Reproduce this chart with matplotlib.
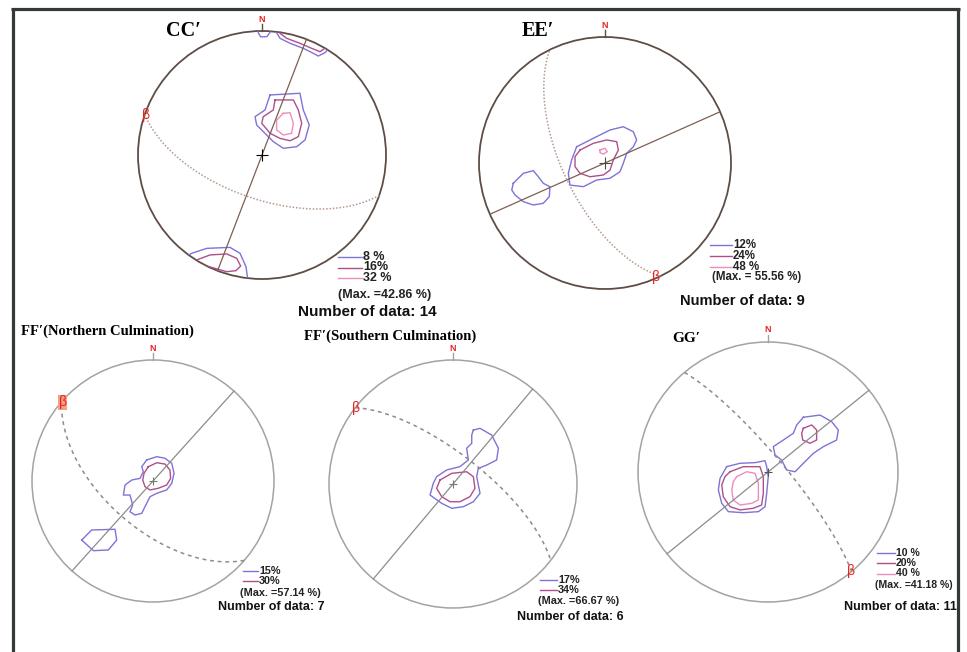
import numpy as np
import matplotlib.pyplot as plt
from matplotlib.patches import Circle
from matplotlib.lines import Line2D

W, H = 967, 652

# ---- data: fold-axis planes (vertical, strike) and beta girdles (dip dir, dip)
cc_axial, cc_girdle, cc_beta = 21, (199, 61), 289
ee_axial, ee_girdle, ee_beta = 66, (244, 63), 156
ffn_axial, ffn_girdle, ffn_beta = 42, (221, 58), 311
ffs_axial, ffs_girdle, ffs_beta = 40, (38, 71), 308
gg_axial, gg_girdle, gg_beta = 51, (50, 80), 140

cc_levels = ["8 %", "16%", "32 %"]
ee_levels = ["12%", "24%", "48 %"]
ffn_levels = ["15%", "30%"]
ffs_levels = ["17%", "34%"]
gg_levels = ["10 %", "20%", "40 %"]

cc_max, ee_max, ffn_max, ffs_max, gg_max = "42.86", "55.56", "57.14", "66.67", "41.18"
cc_n, ee_n, ffn_n, ffs_n, gg_n = 14, 9, 7, 6, 11

# contour outlines, net coordinates (x east, y north, primitive radius 1)
cc_core_1 = [(0.065, 0.484), (0.306, 0.498), (0.333, 0.363), (0.381, 0.242), (0.347, 0.121),
             (0.280, 0.067), (0.172, 0.054), (0.091, 0.108), (-0.043, 0.242), (-0.056, 0.309),
             (0.024, 0.363)]
cc_core_2 = [(0.105, 0.444), (0.253, 0.444), (0.293, 0.363), (0.320, 0.256), (0.293, 0.148),
             (0.226, 0.115), (0.145, 0.134), (0.065, 0.175), (-0.002, 0.256), (0.010, 0.309),
             (0.091, 0.363)]
cc_core_3 = [(0.172, 0.336), (0.226, 0.341), (0.253, 0.256), (0.239, 0.175), (0.172, 0.161),
             (0.118, 0.202), (0.118, 0.282)]
cc_top_1 = [(0.11, 1.03), (0.118, 0.986), (0.145, 0.941), (0.226, 0.901), (0.333, 0.860),
            (0.414, 0.820), (0.454, 0.798), (0.508, 0.825), (0.54, 0.86)]
cc_top_2 = [(0.14, 1.03), (0.145, 0.981), (0.199, 0.941), (0.306, 0.901), (0.401, 0.860),
            (0.468, 0.833), (0.52, 0.87)]
cc_north_1 = [(-0.035, 1.03), (-0.03, 0.986), (-0.01, 0.952), (0.04, 0.955), (0.065, 0.99),
              (0.07, 1.03)]
cc_bot_1 = [(-0.60, -0.81), (-0.567, -0.793), (-0.446, -0.753), (-0.258, -0.745),
            (-0.177, -0.793), (-0.129, -0.901), (-0.118, -0.981), (-0.115, -1.03)]
cc_bot_2 = [(-0.55, -0.86), (-0.513, -0.841), (-0.419, -0.806), (-0.285, -0.798),
            (-0.204, -0.833), (-0.172, -0.895), (-0.210, -0.933), (-0.285, -0.941),
            (-0.379, -0.914), (-0.473, -0.887), (-0.50, -0.90)]

ee_core_1 = [(-0.225, 0.129), (-0.093, 0.196), (0.040, 0.262), (0.145, 0.288), (0.225, 0.248),
             (0.251, 0.183), (0.225, 0.129), (0.172, 0.077), (0.145, -0.003), (0.119, -0.069),
             (0.040, -0.121), (-0.066, -0.135), (-0.172, -0.188), (-0.278, -0.175),
             (-0.291, -0.082), (-0.265, 0.024)]
ee_core_2 = [(-0.198, 0.103), (-0.093, 0.156), (0.013, 0.183), (0.093, 0.169), (0.106, 0.103),
             (0.066, 0.024), (0.040, -0.056), (-0.013, -0.095), (-0.119, -0.109),
             (-0.198, -0.082), (-0.238, -0.029), (-0.238, 0.050)]
ee_core_3 = [(-0.040, 0.103), (0.0, 0.117), (0.018, 0.090), (-0.013, 0.071), (-0.040, 0.082)]
ee_west_1 = [(-0.728, -0.161), (-0.648, -0.082), (-0.569, -0.061), (-0.529, -0.109),
             (-0.490, -0.161), (-0.437, -0.188), (-0.442, -0.267), (-0.490, -0.320),
             (-0.569, -0.333), (-0.648, -0.307), (-0.714, -0.254), (-0.740, -0.214)]

ffn_core_1 = [(-0.052, 0.174), (0.031, 0.201), (0.099, 0.188), (0.155, 0.146), (0.174, 0.064),
              (0.155, -0.019), (0.113, -0.074), (0.031, -0.102), (-0.025, -0.130),
              (-0.066, -0.212), (-0.093, -0.267), (-0.149, -0.281), (-0.190, -0.254),
              (-0.168, -0.198), (-0.190, -0.116), (-0.245, -0.116), (-0.231, -0.033),
              (-0.176, 0.008), (-0.107, 0.022), (-0.080, 0.077), (-0.093, 0.118)]
ffn_core_2 = [(-0.039, 0.118), (0.031, 0.151), (0.099, 0.140), (0.140, 0.091), (0.146, 0.022),
              (0.113, -0.033), (0.044, -0.060), (-0.025, -0.074), (-0.066, -0.047),
              (-0.085, 0.008), (-0.074, 0.064)]
ffn_sw_1 = [(-0.589, -0.488), (-0.507, -0.405), (-0.314, -0.399), (-0.300, -0.488),
            (-0.369, -0.570), (-0.493, -0.576)]

ffs_core_1 = [(0.164, 0.435), (0.218, 0.449), (0.312, 0.395), (0.366, 0.288), (0.352, 0.194),
              (0.272, 0.153), (0.204, 0.126), (0.191, 0.059), (0.218, -0.075), (0.164, -0.143),
              (0.083, -0.183), (-0.010, -0.196), (-0.091, -0.156), (-0.185, -0.089),
              (-0.159, 0.005), (-0.132, 0.059), (-0.051, 0.113), (0.056, 0.140),
              (0.124, 0.194), (0.110, 0.288), (0.151, 0.328), (0.151, 0.395)]
ffs_core_2 = [(-0.105, 0.032), (-0.010, 0.086), (0.110, 0.099), (0.164, 0.059), (0.177, -0.035),
              (0.137, -0.102), (0.056, -0.143), (-0.024, -0.143), (-0.091, -0.102),
              (-0.132, -0.035)]

gg_ne_1 = [(0.272, 0.421), (0.400, 0.438), (0.490, 0.387), (0.541, 0.323), (0.528, 0.246),
           (0.426, 0.195), (0.349, 0.144), (0.272, 0.067), (0.208, 0.002), (0.144, 0.015),
           (0.105, 0.092), (0.054, 0.131), (0.041, 0.195), (0.118, 0.246), (0.195, 0.298),
           (0.221, 0.362)]
gg_ne_2 = [(0.272, 0.336), (0.336, 0.362), (0.374, 0.323), (0.374, 0.246), (0.323, 0.221),
           (0.267, 0.246), (0.259, 0.298)]
gg_sw_1 = [(-0.318, 0.041), (-0.215, 0.067), (-0.100, 0.072), (-0.023, 0.087), (-0.010, 0.041),
           (0.002, -0.036), (-0.010, -0.164), (-0.023, -0.267), (-0.074, -0.305),
           (-0.190, -0.313), (-0.305, -0.305), (-0.356, -0.241), (-0.382, -0.138),
           (-0.369, -0.049)]
gg_sw_2 = [(-0.292, 0.002), (-0.190, 0.041), (-0.062, 0.041), (-0.036, -0.036), (-0.036, -0.164),
           (-0.049, -0.254), (-0.113, -0.279), (-0.215, -0.292), (-0.292, -0.267),
           (-0.344, -0.190), (-0.356, -0.100), (-0.331, -0.036)]
gg_sw_3 = [(-0.241, -0.036), (-0.164, 0.002), (-0.100, -0.010), (-0.074, -0.087),
           (-0.074, -0.215), (-0.125, -0.241), (-0.215, -0.254), (-0.267, -0.215),
           (-0.279, -0.138), (-0.267, -0.074)]

LEVEL_COLORS = ["#7f72d8", "#b04e8c", "#ef8cbd"]
SERIF = ["Liberation Serif", "DejaVu Serif"]
SANS = ["Liberation Sans", "DejaVu Sans"]


def plane_trace(dipdir, dip, n=361):
    """Lower-hemisphere equal-area trace of a plane."""
    s = np.radians(dipdir - 90)
    d = np.radians(dipdir)
    dp = np.radians(dip)
    t = np.linspace(0, np.pi, n)
    e = np.cos(t) * np.sin(s) + np.sin(t) * np.sin(d) * np.cos(dp)
    nn = np.cos(t) * np.cos(s) + np.sin(t) * np.cos(d) * np.cos(dp)
    z = -np.sin(t) * np.sin(dp)
    k = 1 / np.sqrt(1 - z)
    return e * k, nn * k


def px(x):
    return x / W


def py(y):
    return 1 - y / H


fig = plt.figure(figsize=(W / 100, H / 100), dpi=100)
fig.patch.set_facecolor("white")

# outer frame (open at the bottom)
frame_kw = dict(transform=fig.transFigure, color="#333938", lw=2.3, solid_capstyle="butt")
fig.add_artist(Line2D([px(11), px(960)], [py(9), py(9)], **frame_kw))
fig.add_artist(Line2D([px(13), px(13)], [py(8), py(652)], **frame_kw))
fig.add_artist(Line2D([px(957.5), px(957.5)], [py(8), py(652)], **frame_kw))


def draw_net(cx, cy, r, axial, girdle, beta_az, contours, upper, beta_box=False, cross="k"):
    pad = 1.25
    ax = fig.add_axes([px(cx - pad * r), py(cy + pad * r), 2 * pad * r / W, 2 * pad * r / H])
    ax.set_xlim(-pad, pad)
    ax.set_ylim(-pad, pad)
    ax.set_aspect("equal")
    ax.axis("off")

    if upper:
        prim_c, prim_w, ax_c, gd_c, gd_ls = "#5e4d46", 1.3, "#7d5f50", "#b49a8c", (0, (1, 1.2))
    else:
        prim_c, prim_w, ax_c, gd_c, gd_ls = "#a3a3a3", 1.1, "#8c8c8c", "#8c8c8c", (0, (2.5, 2.5))

    clip = Circle((0, 0), 1, transform=ax.transData)
    for pts, lev, closed in contours:
        p = np.array(pts)
        if closed:
            p = np.vstack([p, p[:1]])
        ln, = ax.plot(p[:, 0], p[:, 1], color=LEVEL_COLORS[lev], lw=1.0)
        ln.set_clip_path(clip)

    xa, ya = plane_trace(axial + 90, 90)
    ax.plot(xa, ya, color=ax_c, lw=0.9)
    xg, yg = plane_trace(*girdle)
    ax.plot(xg, yg, color=gd_c, lw=1.1, ls=gd_ls)

    ax.add_patch(Circle((0, 0), 1, fill=False, ec=prim_c, lw=prim_w))
    ax.plot([0, 0], [1, 1.055], color=prim_c, lw=1.0)
    ax.text(0, 1.095, "N", color="#e8231e", fontsize=6.5, fontweight="bold",
            ha="center", va="center", family=SANS)
    ax.plot(0, 0, "+", color=cross, ms=9 if upper else 6, mew=0.8)

    b = np.radians(beta_az)
    bbox = dict(boxstyle="square,pad=0.05", fc="#f6a183", ec="none") if beta_box else None
    ax.text(0.99 * np.sin(b), 0.99 * np.cos(b), "β", color="#e8231e", fontsize=10,
            ha="center", va="center", family=SANS, bbox=bbox)
    return ax


def legend(x0, x1, ys, labels, max_txt, max_xy, n, n_xy, size=7.5, nsize=9):
    for y, lab, col in zip(ys, labels, LEVEL_COLORS):
        fig.add_artist(Line2D([px(x0), px(x1)], [py(y), py(y)], transform=fig.transFigure,
                              color=col, lw=1.0))
        fig.text(px(x1 + 1), py(y), lab, fontsize=size, fontweight="bold", va="center",
                 ha="left", family=SANS, color="#222222")
    fig.text(px(max_xy[0]), py(max_xy[1]), "(Max. =%s %%)" % max_txt, fontsize=size,
             fontweight="bold", va="center", ha="left", family=SANS, color="#222222")
    fig.text(px(n_xy[0]), py(n_xy[1]), "Number of data: %d" % n, fontsize=nsize,
             fontweight="bold", va="center", ha="left", family=SANS, color="#111111")


# CC'
draw_net(262, 155, 124, cc_axial, cc_girdle, cc_beta,
         [(cc_core_1, 0, True), (cc_core_2, 1, True), (cc_core_3, 2, True),
          (cc_top_1, 0, False), (cc_top_2, 1, False), (cc_north_1, 0, False),
          (cc_bot_1, 0, False), (cc_bot_2, 1, False)], upper=True)
legend(338, 362, [257, 267.5, 278], cc_levels, cc_max, (338, 295), cc_n, (298, 312),
       size=9, nsize=11)
fig.text(px(166), py(31), "CC\u2032", fontsize=14.5, fontweight="bold", family=SERIF,
         va="center", ha="left")

# EE'
draw_net(605, 163, 126, ee_axial, ee_girdle, ee_beta,
         [(ee_core_1, 0, True), (ee_core_2, 1, True), (ee_core_3, 2, True),
          (ee_west_1, 0, True)], upper=True, cross="#44503a")
legend(710, 732, [245, 256, 266.5], ee_levels, " " + ee_max, (712, 277), ee_n, (680, 301),
       size=8.3, nsize=10.5)
fig.text(px(522), py(31), "EE\u2032", fontsize=14.5, fontweight="bold", family=SERIF,
         va="center", ha="left")

# FF' northern culmination
draw_net(153, 481, 121, ffn_axial, ffn_girdle, ffn_beta,
         [(ffn_core_1, 0, True), (ffn_core_2, 1, True), (ffn_sw_1, 0, True)],
         upper=False, beta_box=True, cross="#777777")
legend(243, 258, [571, 581], ffn_levels, ffn_max, (240, 593), ffn_n, (218, 607.5),
       size=7.8)
fig.text(px(21), py(331), "FF\u2032(Northern Culmination)", fontsize=10.5, fontweight="bold",
         family=SERIF, va="center", ha="left")

# FF' southern culmination
draw_net(453, 484, 124, ffs_axial, ffs_girdle, ffs_beta,
         [(ffs_core_1, 0, True), (ffs_core_2, 1, True)], upper=False, cross="#777777")
legend(540, 557, [580, 590], ffs_levels, ffs_max, (538, 601.5), ffs_n, (517, 617),
       size=7.8)
fig.text(px(304), py(336), "FF\u2032(Southern Culmination)", fontsize=10.5, fontweight="bold",
         family=SERIF, va="center", ha="left")

# GG'
draw_net(768, 472, 130, gg_axial, gg_girdle, gg_beta,
         [(gg_ne_1, 0, True), (gg_ne_2, 1, True), (gg_sw_1, 0, True),
          (gg_sw_2, 1, True), (gg_sw_3, 2, True)], upper=False, cross="#555555")
legend(877, 895, [553, 563, 573.5], gg_levels, gg_max, (875, 585.5), gg_n, (844, 607),
       size=7.6)
fig.text(px(672), py(338), "GG\u2032", fontsize=11, fontweight="bold", family=SERIF,
         va="center", ha="left")

fig.savefig("out.png", dpi=100)
